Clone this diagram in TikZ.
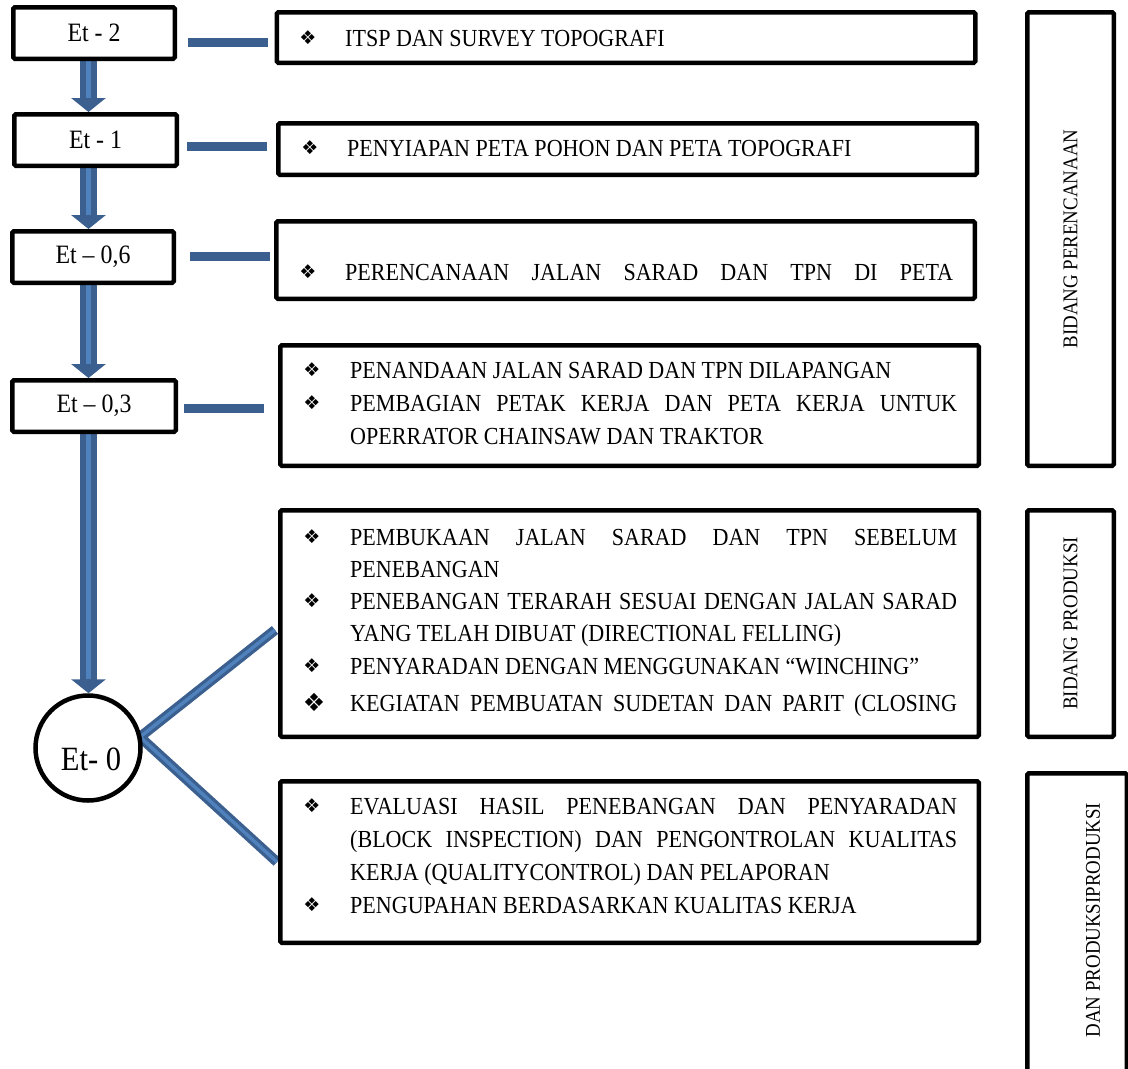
\documentclass[tikz,border=0pt]{standalone}
\usepackage{fontspec}
\setmainfont{Liberation Serif}[FakeStretch=0.9]
\newfontfamily\symf{DejaVu Sans}
\usetikzlibrary{arrows.meta,backgrounds}
\definecolor{adark}{HTML}{3B5F8E}
\definecolor{alight}{HTML}{4F81BD}
\newcommand\boxfont{\fontsize{24.5}{33}\selectfont}
\newcommand\jl[1]{\makebox[607pt][s]{#1}}
\tikzset{
  box/.style={draw=black,line width=4.5pt,fill=white,inner sep=0pt,rounded corners=1.5pt},
  lbox/.style={box,font=\fontsize{26.5}{30}\selectfont,minimum height=51.5pt},
  rbox/.style={box,minimum width=698.5pt},
  vbox/.style={box,rotate=90,font=\fontsize{21}{24}\selectfont},
  txt/.style={anchor=base west,inner sep=0pt,font=\boxfont},
  bul/.style={inner sep=0pt,font=\symf\fontsize{19}{19}\selectfont},
  bigbul/.style={inner sep=0pt,font=\symf\fontsize{25}{25}\selectfont},
  flow/.style={draw=adark,line width=17pt,-{Triangle[width=34pt,length=14pt]}},
  flowin/.style={draw=alight,line width=5pt,shorten >=14pt},
  bar/.style={draw=adark,line width=9pt},
  diag/.style={draw=adark,line width=10pt,line join=miter},
  diagin/.style={draw=alight,line width=3.5pt,line join=miter}
}
\begin{document}
\begin{tikzpicture}[x=1pt,y=-1pt]
\useasboundingbox (0,0) rectangle (1128,1069);
% left boxes
\node[lbox,minimum width=161.5pt] (e2) at (94,33) {Et - 2};
\node[lbox,minimum width=162.5pt] (e1) at (95.5,140) {Et - 1};
\node[lbox,minimum width=161.5pt] (e06) at (93,257) {Et – 0,6};
\node[lbox,minimum width=163.5pt] (e03) at (94,406) {Et – 0,3};
\node[circle,draw=black,line width=4.5pt,fill=white,minimum size=105pt,inner sep=0pt] (et0) at (88,748) {};
\node[inner sep=0pt,font=\fontsize{34}{40}\selectfont] (et0t) at (91,759) {Et- 0};
% right boxes
\node[rbox,minimum height=50.5pt] (b1) at (626,37.5) {};
\node[rbox,minimum height=51.5pt] (b2) at (627.5,149) {};
\node[rbox,minimum height=77.5pt] (b3) at (625.5,260) {};
\node[rbox,minimum height=120.5pt] (b4) at (629.5,405.5) {};
\node[rbox,minimum height=226.5pt] (b5) at (629.5,623.5) {};
\node[rbox,minimum height=161.5pt] (b6) at (629.5,862) {};
% side boxes
\node[vbox,minimum width=453.5pt,minimum height=86.5pt] (rA) at (1070.5,239) {BIDANG PERENCANAAN};
\node[vbox,minimum width=226.5pt,minimum height=86.5pt] (rB) at (1070.5,623.5) {BIDANG PRODUKSI};
\node[box,minimum width=99.5pt,minimum height=314.5pt] (rC) at (1077,930.5) {};
\node[rotate=90,inner sep=0pt,font=\fontsize{21}{24}\selectfont] (lC) at (1093,920) {DAN PRODUKSIPRODUKSI};
% box texts
\node[bul] (u1) at (308,38) {❖};
\node[txt] (t1) at (345,46) {ITSP DAN SURVEY TOPOGRAFI};
\node[bul] (u2) at (310,148) {❖};
\node[txt] (t2) at (347,156) {PENYIAPAN PETA POHON DAN PETA TOPOGRAFI};
\node[bul] (u3) at (308,272) {❖};
\node[txt] (t3) at (345,280) {\makebox[608pt][s]{PERENCANAAN JALAN SARAD DAN TPN DI PETA}};
\node[bul] (u4) at (312,370) {❖};
\node[txt] (t4) at (350,378) {PENANDAAN JALAN SARAD DAN TPN DILAPANGAN};
\node[bul] (u5) at (312,403) {❖};
\node[txt] (t5) at (350,411) {\jl{PEMBAGIAN PETAK KERJA DAN PETA KERJA UNTUK}};
\node[txt] (t6) at (350,444) {OPERRATOR CHAINSAW DAN TRAKTOR};
\node[bul] (u6) at (312,537) {❖};
\node[txt] (t7) at (350,545) {\jl{PEMBUKAAN JALAN SARAD DAN TPN SEBELUM}};
\node[txt] (t8) at (350,577) {PENEBANGAN};
\node[bul] (u7) at (312,601) {❖};
\node[txt] (t9) at (350,609) {\jl{PENEBANGAN TERARAH SESUAI DENGAN JALAN SARAD}};
\node[txt] (t10) at (350,641) {YANG TELAH DIBUAT (DIRECTIONAL FELLING)};
\node[bul] (u8) at (312,666) {❖};
\node[txt] (t11) at (350,674) {PENYARADAN DENGAN MENGGUNAKAN “WINCHING”};
\node[bigbul] (u9) at (314,702) {❖};
\node[txt] (t12) at (350,711) {\jl{KEGIATAN PEMBUATAN SUDETAN DAN PARIT (CLOSING}};
\node[bul] (u10) at (312,806) {❖};
\node[txt] (t13) at (350,814) {\jl{EVALUASI HASIL PENEBANGAN DAN PENYARADAN}};
\node[txt] (t14) at (350,847) {\jl{(BLOCK INSPECTION) DAN PENGONTROLAN KUALITAS}};
\node[txt] (t15) at (350,880) {KERJA (QUALITYCONTROL) DAN PELAPORAN};
\node[bul] (u11) at (312,905) {❖};
\node[txt] (t16) at (350,913) {PENGUPAHAN BERDASARKAN KUALITAS KERJA};
% connector coordinates
\coordinate (ax) at (88.5,0);
\coordinate (h1a) at (188,42);  \coordinate (h1b) at (268,42);
\coordinate (h2a) at (187,146); \coordinate (h2b) at (267,146);
\coordinate (h3a) at (190,256); \coordinate (h3b) at (270,256);
\coordinate (h4a) at (184,408); \coordinate (h4b) at (264,408);
\coordinate (v) at (140,737);
\coordinate (d1) at (275,630);
\coordinate (d2) at (277,862);
\begin{pgfonlayer}{background}
\draw[flow] (e2.south -| ax) -- (e1.north -| ax);
\draw[flowin] (e2.south -| ax) -- (e1.north -| ax);
\draw[flow] (e1.south -| ax) -- (e06.north -| ax);
\draw[flowin] (e1.south -| ax) -- (e06.north -| ax);
\draw[flow] (e06.south -| ax) -- (e03.north -| ax);
\draw[flowin] (e06.south -| ax) -- (e03.north -| ax);
\draw[flow] (e03.south -| ax) -- (et0.north -| ax);
\draw[flowin] (e03.south -| ax) -- (et0.north -| ax);
\draw[diag] (d1) -- (v) -- (d2);
\draw[diagin] (d1) -- (v) -- (d2);
\end{pgfonlayer}
\draw[bar] (h1a) -- (h1b);
\draw[bar] (h2a) -- (h2b);
\draw[bar] (h3a) -- (h3b);
\draw[bar] (h4a) -- (h4b);
\end{tikzpicture}
\end{document}
